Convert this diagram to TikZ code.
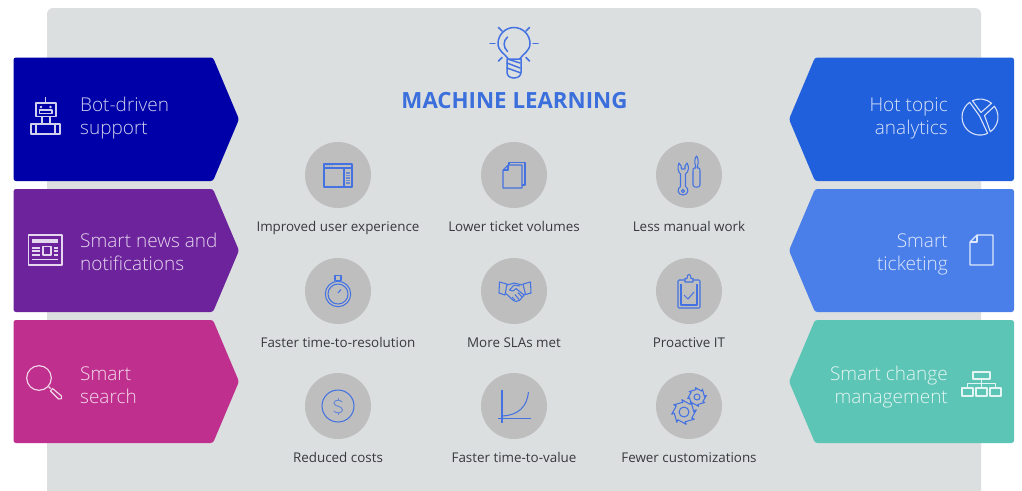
\documentclass[tikz,border=0pt]{standalone}
\usepackage{fontspec}
\setmainfont{Open Sans}[UprightFeatures={},BoldFont={Open Sans Semibold}]
\newfontfamily\lightfont{Open Sans Light}
\newfontfamily\midfont{Open Sans}
\newfontfamily\titlefont{Open Sans}[UprightFont={* Bold}]
\definecolor{bggray}{HTML}{DCDFE0}
\definecolor{circgray}{HTML}{BEBEBF}
\definecolor{iconblue}{HTML}{4472E0}
\definecolor{titleblue}{HTML}{3B6FDC}
\definecolor{cap}{HTML}{37393D}
\definecolor{pbot}{HTML}{0000A8}
\definecolor{pnews}{HTML}{6D239C}
\definecolor{psearch}{HTML}{BF308E}
\definecolor{phot}{HTML}{2160DC}
\definecolor{pticket}{HTML}{4A7FEA}
\definecolor{pchange}{HTML}{5DC5B6}
\newcommand{\leftpanel}[3]{\fill[#3,rounded corners=2.5] (13.5,#1) -- (213,#1) -- (239,{(#1+#2)/2}) -- (213,#2) -- (13.5,#2) -- cycle;}
\newcommand{\rightpanel}[3]{\fill[#3,rounded corners=2.5] (1014,#1) -- (815,#1) -- (789,{(#1+#2)/2}) -- (815,#2) -- (1014,#2) -- cycle;}
\newcommand{\gearicon}[6]{\begin{scope}[shift={(#1,#2)}]
\draw[icn,line join=round] (0:#4) \foreach \i in {0,...,7}{ -- ({\i*45+#6-7}:#4) -- ({\i*45+#6-10}:#3)} -- cycle;
\draw[icn] (0,0) circle[radius=#5];
\end{scope}}
\tikzset{
 panellabel/.style={text=white!82!#1,font=\lightfont\fontsize{19}{23}\selectfont,inner sep=0},
 caption/.style={text=cap,font=\midfont\fontsize{13.4}{15}\selectfont,inner sep=0,anchor=base},
 wht/.style={draw=white!82!#1,line width=1.1,line join=round},
 icn/.style={draw=iconblue,line width=1.05,line join=round},
 bubble/.style={fill=circgray,circle,minimum size=66,inner sep=0}
}
\begin{document}
\begin{tikzpicture}[x=1pt,y=-1pt]
\useasboundingbox (0,0) rectangle (1022,490);
\fill[white] (0,0) rectangle (1022,490);
\begin{scope}
\clip (0,0) rectangle (1022,490);
\fill[bggray,rounded corners=6] (47,8) rectangle (981,510);
\end{scope}
% panels
\leftpanel{57.5}{181}{pbot}
\leftpanel{189}{312}{pnews}
\leftpanel{320}{443}{psearch}
\rightpanel{57.5}{181}{phot}
\rightpanel{189}{312}{pticket}
\rightpanel{320}{443}{pchange}
% panel labels
\node[panellabel=pbot,anchor=west,align=left] (lbot) at (80,118.5) {Bot-driven\\support};
\node[panellabel=pnews,anchor=west,align=left] (lnews) at (80,252) {Smart news and\\notifications};
\node[panellabel=psearch,anchor=west,align=left] (lsearch) at (80,385) {Smart\\search};
\node[panellabel=phot,anchor=east,align=right] (lhot) at (948,118.5) {Hot topic\\analytics};
\node[panellabel=pticket,anchor=east,align=right] (lticket) at (948,254) {Smart\\ticketing};
\node[panellabel=pchange,anchor=east,align=right] (lchange) at (948,387) {Smart change\\management};
% title
\node[text=titleblue,font=\titlefont\fontsize{22.3}{25}\selectfont,inner sep=0] (title) at (514.5,101) {MACHINE LEARNING};
% bulb
\begin{scope}[iconblue,line width=1.5,line cap=round]
\draw (508,58.5) .. controls (505,54) and (498,51) .. (498,43.5) .. controls (498,35) and (505,27.5) .. (514,27.5) .. controls (523,27.5) and (530,35) .. (530,43.5) .. controls (530,51) and (523,54) .. (520,58.5);
\draw (507,59) -- (521,59) -- (521,72) .. controls (521,76) and (518,78) .. (514,78) .. controls (510,78) and (507,76) .. (507,72) -- cycle;
\draw (507,63) -- (520,68); \draw (507,68) -- (521,73); \draw (509,59.5) -- (520,63);
\draw (507.5,37) .. controls (503,41) and (503,47) .. (507.5,51.5);
\draw (490,43.5) -- (495,43.5); \draw (533,43.5) -- (538,43.5);
\draw (498.5,27.5) -- (502,31); \draw (529.5,27.5) -- (526,31);
\draw (498.5,61) -- (502,57.5); \draw (529.5,61) -- (526,57.5);
\end{scope}
% bubbles
\node[bubble] (c11) at (338,175) {}; \node[bubble] (c12) at (514,175) {}; \node[bubble] (c13) at (689,175) {};
\node[bubble] (c21) at (338,291) {}; \node[bubble] (c22) at (514,291) {}; \node[bubble] (c23) at (689,291) {};
\node[bubble] (c31) at (338,406) {}; \node[bubble] (c32) at (514,406) {}; \node[bubble] (c33) at (689,406) {};
% captions
\node[caption] (t11) at (338,231.5) {Improved user experience};
\node[caption] (t12) at (514,231.5) {Lower ticket volumes};
\node[caption] (t13) at (689,231.5) {Less manual work};
\node[caption] (t21) at (338,347) {Faster time-to-resolution};
\node[caption] (t22) at (514,347) {More SLAs met};
\node[caption] (t23) at (689,347) {Proactive IT};
\node[caption] (t31) at (338,462.5) {Reduced costs};
\node[caption] (t32) at (514,462.5) {Faster time-to-value};
\node[caption] (t33) at (689,462.5) {Fewer customizations};
% bot icon
\begin{scope}[wht=pbot]
\draw (45.5,97) -- (45.5,103);
\draw (36,103) rectangle (56,116.5);
\draw (39.5,110) rectangle (52,113.5);
\fill[white!82!pbot] (41,107) circle[radius=1.4]; \fill[white!82!pbot] (50.5,107) circle[radius=1.4];
\draw (42,116.5) -- (42,124); \draw (50,116.5) -- (50,124);
\draw (31,124) rectangle (60,134);
\draw (36,124) -- (36,134); \draw (55,124) -- (55,134);
\end{scope}
% news icon
\begin{scope}[wht=pnews]
\draw (28.5,235) rectangle (62,265);
\fill[white!82!pnews] (32,239) rectangle (58,243);
\draw (43,246.5) rectangle (51,255);
\draw (32,248) -- (40,248); \draw (32,251) -- (40,251); \draw (32,255) -- (40,255);
\draw (53.5,248) -- (58,248); \draw (53.5,251) -- (58,251); \draw (53.5,255) -- (58,255);
\draw (32,259.5) -- (58,259.5);
\end{scope}
% search icon
\begin{scope}[wht=psearch]
\draw (39,378) circle[radius=12.3];
\draw[line width=1.1] (48.5,386.5) -- (50.5,388.5);
\draw (50.5,391) -- (52.5,388.5) -- (61.5,396) .. controls (63,398) and (60.5,400.5) .. (58.5,399) -- cycle;
\end{scope}
% pie icon
\begin{scope}[wht=phot]
\draw (972.4,100.7) arc[start angle=-115,end angle=-50,radius=18] -- (981,112.5) -- cycle;
\draw (994.4,106.2) arc[start angle=-37,end angle=55,radius=18] -- (984.5,115.5) -- cycle;
\draw (969.7,102.3) arc[start angle=-125,end angle=-295,radius=18] -- (979.5,116) -- cycle;
\end{scope}
% doc icon
\begin{scope}[wht=pticket]
\draw (977,235) -- (993,235) -- (993,265) -- (970,265) -- (970,242) -- cycle;
\draw (977,235) -- (977,242) -- (970,242);
\end{scope}
% org icon
\begin{scope}[wht=pchange]
\draw (973,372) rectangle (990,379);
\draw (981.5,379) -- (981.5,388);
\draw (967.5,388) -- (967.5,383.5) -- (995.5,383.5) -- (995.5,388);
\draw (962,388) rectangle (973,396);
\draw (976,388) rectangle (987,396);
\draw (990,388) rectangle (1001,396);
\end{scope}
% window
\draw[icn] (324,164) rectangle (352,187);
\draw[icn] (324,168) -- (352,168); \draw[icn] (344,168) -- (344,187);
\foreach \x in {327,329.5,332}{\fill[iconblue!70!circgray] (\x,166) circle[radius=.7];}
\foreach \y in {173,175.5,178,180.5,183}{\draw[iconblue!70!circgray,line width=1.4] (346,\y) -- (349.5,\y);}
% documents
\draw[icn] (509,165) -- (509,162.5) -- (525,162.5) -- (525,185) -- (522,185);
\draw[icn] (508,165) -- (522,165) -- (522,188) -- (503,188) -- (503,170) -- cycle;
\draw[icn] (508,165) -- (508,170) -- (503,170);
% tools
\draw[icn] (696.5,156) .. controls (694.5,158) and (694.5,163) .. (695.5,166) -- (695.5,168) -- (694.5,168) .. controls (693,168) and (693,169) .. (693,171) -- (693,185) .. controls (693,188) and (700,188) .. (700,185) -- (700,171) .. controls (700,169) and (700,168) .. (698.5,168) -- (697.5,168) -- (697.5,166) .. controls (698.5,163) and (698.5,158) .. (696.5,156) -- cycle;
\draw[icn] (679,163) .. controls (677,167) and (678,172) .. (680.5,174) -- (680.5,186.5) .. controls (677,188) and (677,195) .. (683,195) .. controls (689,195) and (689,188) .. (685.5,186.5) -- (685.5,174) .. controls (688.5,172) and (689.5,167) .. (687,163) -- (685,166) -- (685,169) -- (681.5,169) -- (681,166) -- cycle;
\draw[icn] (683,191) circle[radius=1.7];
% stopwatch
\draw[icn] (338,294) circle[radius=12.7]; \draw[icn] (338,294) circle[radius=10];
\draw[icn] (335,275.5) rectangle (341,280.5); \draw[icn] (336.5,280.5) -- (336.5,281.5); \draw[icn] (339.5,280.5) -- (339.5,281.5);
\draw[icn] (338,293) -- (341,289.5);
% handshake
\draw[icn] (499.5,282) -- (507,284) -- (505,295) -- (499,293) -- cycle;
\draw[icn] (530.5,282) -- (523,284) -- (525.5,294.5) -- (531,293) -- cycle;
\draw[icn] (507,285) .. controls (510,285) and (512,283) .. (514,283) -- (522.5,285);
\draw[icn] (505.5,293.5) .. controls (509,295) and (512,301) .. (516,301.5) .. controls (519,302) and (521,299) .. (522,297.5) -- (525,294);
\draw[icn] (520,286) -- (514,285) -- (509.5,290) .. controls (511,292) and (514,291) .. (516,288.5) -- (524,295);
\draw[icn] (512,297) -- (515,300); \draw[icn] (515,294.5) -- (519,299.5); \draw[icn] (518,292.5) -- (522,297);
% clipboard
\draw[icn,rounded corners=1] (685,280) -- (678,280) -- (678,308) -- (700,308) -- (700,280) -- (693,280);
\draw[icn] (685,278.5) -- (687,278.5) .. controls (687,273) and (691,273) .. (691,278.5) -- (693,278.5) -- (693,282) -- (685,282) -- cycle;
\draw[icn] (681,284) -- (681,305) -- (697,305) -- (697,284);
\draw[icn] (684,295) -- (688,299) -- (694,292);
% dollar
\draw[icn] (338,406) circle[radius=16];
\draw[iconblue!70!circgray,line width=1,line cap=round] (342,402) .. controls (341,399.5) and (334,399.5) .. (334,403) .. controls (334,407) and (342.5,405.5) .. (342.5,410) .. controls (342.5,413.5) and (335,413.5) .. (334,411);
\draw[iconblue!70!circgray,line width=1] (338,397.5) -- (338,399.5); \draw[iconblue!70!circgray,line width=1] (338,412.5) -- (338,415);
% growth curve
\draw[icn] (502,389.5) -- (502,423); \draw[icn] (498,418.5) -- (531,418.5);
\draw[icn] (503,416) .. controls (518,415) and (527,407) .. (528.5,392);
% gears
\gearicon{684}{412}{12.5}{9.8}{5}{0}
\gearicon{697}{397}{9.5}{7.5}{3}{0}
\end{tikzpicture}
\end{document}
